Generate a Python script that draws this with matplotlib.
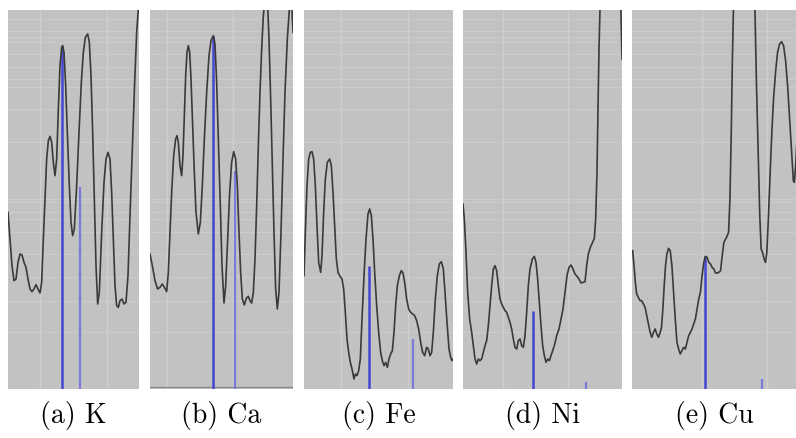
import matplotlib
matplotlib.use("Agg")
import matplotlib.pyplot as plt

# Spectra: detector channel vs. counts for five element windows
labels = ["(a) K", "(b) Ca", "(c) Fe", "(d) Ni", "(e) Cu"]

k_channel = [24, 30, 36, 42, 48, 54, 60, 66, 72, 78, 84, 90, 96, 102, 108, 114, 120, 125,
             130, 135, 140, 145, 150, 155, 160, 165, 170, 175, 180, 185, 188, 192, 197, 202,
             208, 213, 218, 223, 230, 237, 244, 250, 256, 263, 268, 273, 278, 283, 288, 293,
             298, 305, 312, 318, 324, 330, 335, 340, 345, 350, 355, 360, 366, 372, 378, 384,
             390, 397, 404, 410, 415, 420]
k_counts = [530, 450, 370, 325, 330, 380, 405, 402, 380, 365, 330, 300, 292, 300, 313, 300,
            288, 320, 450, 570, 690, 745, 758, 740, 680, 640, 690, 840, 970, 1025, 1030, 1010,
            910, 770, 610, 500, 460, 480, 610, 770, 920, 1010, 1055, 1065, 1040, 940, 770, 570,
            370, 255, 290, 470, 620, 690, 710, 690, 590, 450, 310, 250, 245, 265, 270, 255,
            260, 340, 520, 720, 920, 1070, 1140, 1220]
k_lines_channel = [187, 241]
k_lines_counts = [1030, 605]

ca_channel = [15, 22, 30, 38, 45, 52, 58, 65, 70, 75, 80, 86, 92, 96, 100, 105, 110, 114,
              118, 122, 126, 130, 134, 138, 143, 148, 153, 160, 166, 172, 178, 185, 192, 198,
              205, 210, 215, 220, 226, 231, 237, 242, 248, 254, 260, 266, 272, 277, 282, 287,
              292, 298, 304, 310, 315, 320, 325, 330, 335, 340, 345, 350, 355, 358, 362, 368,
              372, 377, 382, 387, 392, 397, 402, 408, 414, 420, 427, 433, 439, 444]
ca_counts = [405, 370, 325, 300, 305, 315, 305, 292, 350, 470, 590, 700, 750, 760, 740, 670,
             640, 700, 820, 940, 1010, 1030, 1010, 930, 790, 650, 530, 465, 500, 610, 750, 890,
             1000, 1045, 1060, 1035, 920, 750, 550, 370, 258, 310, 450, 590, 680, 712, 690, 610,
             470, 350, 270, 252, 272, 278, 265, 258, 290, 390, 550, 730, 890, 1020, 1120, 1150,
             1220, 1150, 1050, 870, 670, 470, 300, 240, 290, 470, 690, 890, 1050, 1140, 1180,
             1070]
ca_lines_channel = [205, 270]
ca_lines_counts = [1060, 655]

fe_channel = [18, 22, 27, 32, 37, 42, 47, 52, 57, 62, 68, 72, 77, 82, 88, 95, 100, 105, 110,
              115, 120, 125, 132, 137, 142, 147, 152, 157, 162, 168, 172, 177, 182, 187, 192,
              198, 204, 210, 215, 220, 225, 230, 236, 242, 248, 253, 258, 263, 268, 273, 278,
              283, 288, 293, 298, 304, 310, 315, 320, 326, 332, 338, 344, 350, 356, 362, 368,
              374, 380, 386, 391, 396, 401, 406, 412, 418, 424, 430, 436, 441, 447, 453, 458,
              462, 465]
fe_counts = [340, 470, 610, 690, 710, 712, 690, 610, 490, 380, 350, 400, 530, 630, 680, 690,
             670, 590, 490, 390, 350, 340, 330, 300, 230, 150, 110, 80, 60, 30, 45, 40, 55, 90,
             210, 340, 450, 525, 540, 520, 450, 350, 250, 170, 110, 85, 70, 80, 65, 90, 105, 115,
             170, 250, 310, 340, 355, 348, 320, 270, 240, 230, 225, 220, 205, 180, 140, 110, 100,
             125, 120, 100, 110, 170, 270, 340, 375, 382, 360, 290, 200, 120, 95, 85, 90]
fe_lines_channel = [213, 345]
fe_lines_counts = [370, 150]

ni_channel = [24, 28, 33, 38, 44, 50, 55, 60, 65, 70, 75, 80, 85, 90, 95, 100, 105, 110, 115,
              120, 125, 130, 135, 140, 145, 150, 155, 160, 165, 170, 175, 180, 185, 190, 195,
              200, 205, 210, 215, 220, 225, 232, 238, 243, 248, 253, 258, 263, 268, 273, 278,
              283, 288, 293, 298, 305, 312, 318, 324, 330, 336, 342, 348, 354, 360, 366, 372,
              378, 384, 390, 395, 400, 406, 412, 418, 422, 426, 429, 432, 435, 437, 496, 501]
ni_counts = [555, 510, 410, 290, 210, 170, 130, 90, 75, 90, 85, 90, 110, 130, 145, 190, 250,
             310, 360, 370, 355, 310, 270, 255, 245, 235, 230, 215, 200, 180, 150, 125, 120, 145,
             150, 130, 125, 160, 230, 310, 360, 390, 398, 380, 330, 260, 190, 130, 100, 80, 90,
             85, 100, 115, 130, 160, 180, 210, 240, 290, 340, 365, 372, 360, 345, 338, 330, 318,
             320, 322, 370, 405, 425, 438, 452, 510, 650, 840, 1020, 1140, 1230, 1210, 990]
ni_lines_channel = [235, 393]
ni_lines_counts = [235, 20]

cu_channel = [38, 42, 46, 50, 55, 60, 65, 70, 75, 80, 85, 90, 95, 100, 105, 110, 115, 120,
              124, 128, 132, 136, 140, 145, 150, 155, 160, 165, 170, 175, 180, 185, 190, 195,
              200, 205, 210, 215, 220, 225, 230, 235, 240, 245, 250, 255, 260, 265, 270, 275,
              280, 285, 290, 295, 300, 305, 310, 318, 324, 328, 332, 335, 338, 340, 400, 403,
              407, 412, 417, 421, 425, 430, 434, 438, 443, 448, 453, 458, 464, 470, 476, 482,
              488, 494, 500, 506, 512, 517, 520, 524, 528]
cu_counts = [415, 370, 320, 285, 275, 265, 265, 255, 245, 220, 195, 170, 155, 170, 180, 165,
             155, 170, 185, 240, 310, 370, 405, 422, 415, 370, 290, 210, 140, 120, 105, 115, 125,
             120, 140, 160, 170, 180, 195, 210, 240, 270, 290, 340, 380, 398, 395, 380, 375, 365,
             360, 348, 348, 350, 355, 400, 440, 455, 470, 570, 770, 970, 1120, 1190, 1190, 1120,
             920, 720, 520, 420, 410, 390, 380, 410, 520, 650, 770, 870, 950, 1010, 1035, 1042,
             1030, 985, 910, 810, 710, 625, 620, 670, 750]
cu_lines_channel = [255, 425]
cu_lines_counts = [398, 30]

channels = [k_channel, ca_channel, fe_channel, ni_channel, cu_channel]
counts = [k_counts, ca_counts, fe_counts, ni_counts, cu_counts]
line_channels = [k_lines_channel, ca_lines_channel, fe_lines_channel,
                 ni_lines_channel, cu_lines_channel]
line_counts = [k_lines_counts, ca_lines_counts, fe_lines_counts,
               ni_lines_counts, cu_lines_counts]

# Channel window and faint reference lines of each panel
x_windows = [(24, 417), (15, 444), (18, 465), (24, 501), (36, 525)]
x_refs = [(120, 320), (65, 265), (130, 330), (145, 340), (245, 440)]
y_refs = [1110, 1075, 1055, 1040, 1005, 965, 930, 905, 840, 740, 570, 560, 530,
          510, 470, 405, 335, 265, 170]
y_top = 1137

W, H = 796, 439
fig = plt.figure(figsize=(W / 100, H / 100), dpi=100)
fig.patch.set_facecolor("white")

panel_px = [(8, 139), (150, 293), (304, 453), (463, 622), (632, 796)]
top_px, bottom_px = 11, 390

for i in range(5):
    x0, x1 = panel_px[i]
    ax = fig.add_axes([x0 / W, (H - bottom_px) / H, (x1 - x0) / W,
                       (bottom_px - top_px) / H])
    ax.set_facecolor("#c2c2c2")
    for yr in y_refs:
        ax.axhline(yr, color="#cdcdcd", lw=0.7, zorder=1)
    for xr in x_refs[i]:
        ax.axvline(xr, color="#cecece", lw=1.0, zorder=1)

    # element emission lines
    main_c, main_h = line_channels[i][0], line_counts[i][0]
    sec_c, sec_h = line_channels[i][1], line_counts[i][1]
    ax.vlines(main_c, 0, main_h, color="#4646d4", lw=1.8, zorder=3)
    ax.vlines(sec_c, 0, sec_h, color="#7a7ada", lw=1.6, zorder=3)

    ax.plot(channels[i], counts[i], color="#3a3a3a", lw=1.2, zorder=4)

    if i == 1:
        ax.axhline(6, color="#8a8a8a", lw=1.0, zorder=2)

    ax.set_xlim(*x_windows[i])
    ax.set_ylim(0, y_top)
    ax.set_xticks([])
    ax.set_yticks([])
    for s in ax.spines.values():
        s.set_visible(False)

    fig.text(((x0 + x1) / 2) / W, (H - 416) / H, labels[i],
             ha="center", va="center", fontsize=20, family="cmr10")

fig.savefig("out.png", dpi=100)
